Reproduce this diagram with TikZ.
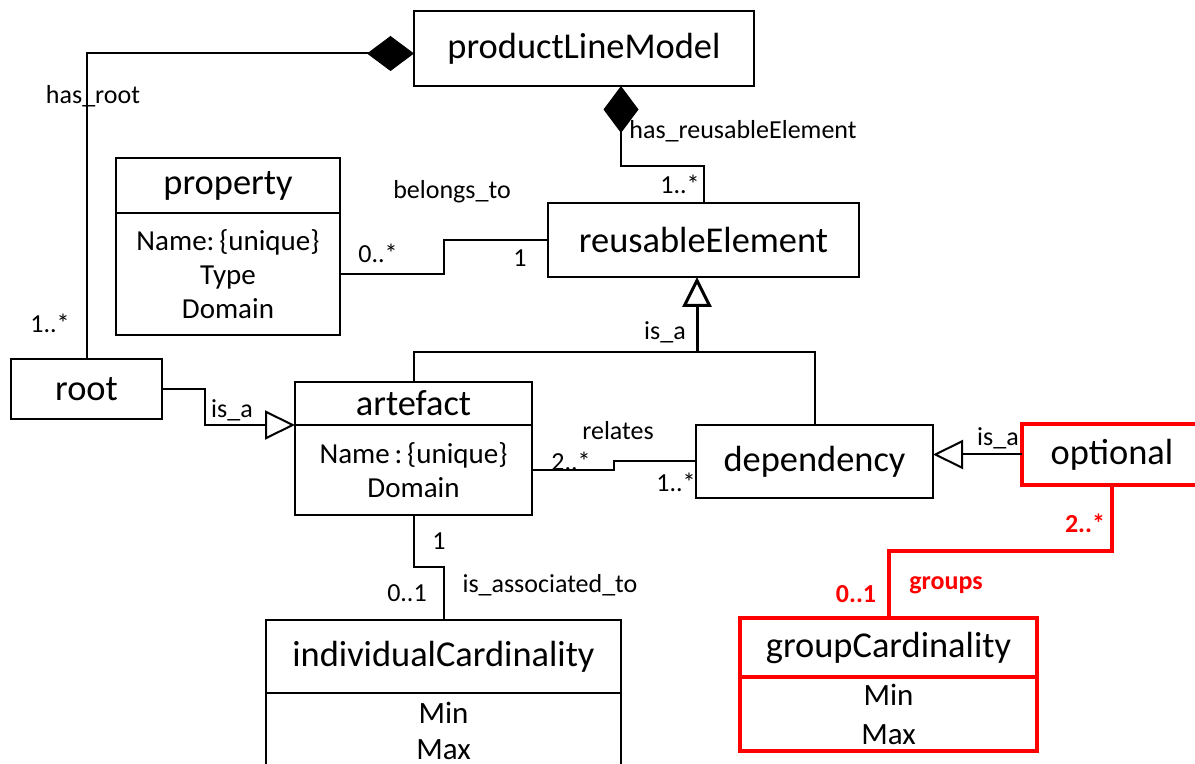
\documentclass[tikz,border=0pt]{standalone}
\usepackage{fontspec}
\setmainfont{Carlito}
\usetikzlibrary{positioning,calc,arrows.meta}

\begin{document}
\begin{tikzpicture}[x=0.5pt, y=-0.5pt, line width=1pt,
    cls/.style={draw, inner sep=0pt, outer sep=0pt, font=\fontsize{18.2}{22}\selectfont},
    attr/.style={draw, inner sep=0pt, outer sep=0pt, align=center,
      font=\fontsize{14.5}{17}\selectfont},
    lbl/.style={inner sep=0pt, font=\fontsize{13}{15}\selectfont},
    redlbl/.style={inner sep=0pt, text=red, font=\fontsize{13}{15}\selectfont\bfseries},
    comp/.style={-{Diamond[length=23.5pt,width=17.5pt]}},
    isa/.style={-{Triangle[open,length=15pt,width=14.5pt]}}]
    \useasboundingbox (0,0) rectangle (1195,764);%
    % classes
    \node[cls, minimum width=170pt, minimum height=37.5pt] (plm) at (584,48.5) {productLineModel};%
    \node[cls, minimum width=155.5pt, minimum height=37pt] (reuse) at (703.5,240) {reusableElement};%
    \node[cls, minimum width=112pt, minimum height=27.5pt] (prop) at (228,185.5) {property};%
    \node[attr, minimum width=112pt, minimum height=61pt, below=0pt of prop] (propattr)%
    {Name:\,\{unique\}\\Type\\Domain};%
    \node[cls, minimum width=75.5pt, minimum height=30pt] (root) at (86.5,389) {root};%
    \node[cls, minimum width=118.5pt, minimum height=21.5pt] (art) at (413.5,403.5) {artefact};%
    \node[attr, minimum width=118.5pt, minimum height=45pt, below=0pt of art] (artattr)%
    {Name\,:\,\{unique\}\\Domain};%
    \node[cls, minimum width=118.5pt, minimum height=36.5pt] (dep) at (814.5,461.5) {dependency};%
    \node[cls, draw=red, line width=2pt, minimum width=90pt, minimum height=30.5pt] (opt)%
    at (1112,454.5) {optional};%
    \node[cls, draw=red, line width=2pt, minimum width=148.5pt, minimum height=29.5pt] (grp)%
    at (888.5,647.5) {groupCardinality};%
    \node[attr, draw=red, line width=2pt, minimum width=148.5pt, minimum height=37pt,%
    font=\fontsize{15.5}{19.5}\selectfont, below=0pt of grp] (grpattr) {Min\\Max};%
    \node[cls, minimum width=177.5pt, minimum height=36.5pt] (ind) at (443.5,656.5)%
    {individualCardinality};%
    \node[attr, minimum width=177.5pt, minimum height=38pt,%
    font=\fontsize{15.5}{18}\selectfont, below=0pt of ind] (indattr) {Min\\Max};%
    % connectors
    \coordinate (hre) at (621,166);%
    \coordinate (gen) at (697,352);%
    \draw[comp] (root.north) |- ([yshift=-2.5pt]plm.west);%
    \draw[comp] (reuse.north) |- (hre) -- (hre |- plm.south);%
    \draw (propattr.east) -| ($(propattr.east)!.5!(reuse.west)$) |- (reuse.west);%
    \draw[isa] (root.east) -- ++(43,0) |- (art.south west);%
    \draw (art.north) |- (gen) -| (dep.north);%
    \draw[isa, line width=1.5pt] (gen) -- (gen |- reuse.south);%
    \draw (artattr.east) -| ($(artattr.east)!.5!(dep.west)$) |- (dep.west);%
    \draw[isa] (opt.west) -- (opt.west -| dep.east);%
    \draw (artattr.south) |- ($(artattr.south)!.5!(ind.north)$) -| (ind.north);%
    \draw[red, line width=2pt] (opt.south) |- ($(opt.south)!.5!(grp.north)$) -| (grp.north);%
    % labels
    \node[lbl] (lroot) at (93,96) {has\_root};%
    \node[lbl] (mroot) at (50,323) {1..*};%
    \node[lbl] (lhre) at (743,131) {has\_reusableElement};%
    \node[lbl] (mhre) at (680,184) {1..*};%
    \node[lbl] (lbel) at (452,192) {belongs\_to};%
    \node[lbl] (mbelp) at (378,253) {0..*};%
    \node[lbl] (mbelr) at (520,258) {1};%
    \node[lbl] (lgen) at (665,332) {is\_a};%
    \node[lbl] (lrisa) at (232,410) {is\_a};%
    \node[lbl] (lrel) at (618,431) {relates};%
    \node[lbl] (mrela) at (571,461) {2..*};%
    \node[lbl] (mreld) at (676,482) {1..*};%
    \node[lbl] (loisa) at (998,438) {is\_a};%
    \node[redlbl] (mgrpo) at (1085,523) {2..*};%
    \node[redlbl] (mgrpg) at (856,594) {0..1};%
    \node[redlbl] (lgrp) at (946,585) {groups};%
    \node[lbl] (masa) at (439,541) {1};%
    \node[lbl] (masi) at (407,593) {0..1};%
    \node[lbl] (lasc) at (550,585) {is\_associated\_to};%
  \end{tikzpicture}
\end{document}
